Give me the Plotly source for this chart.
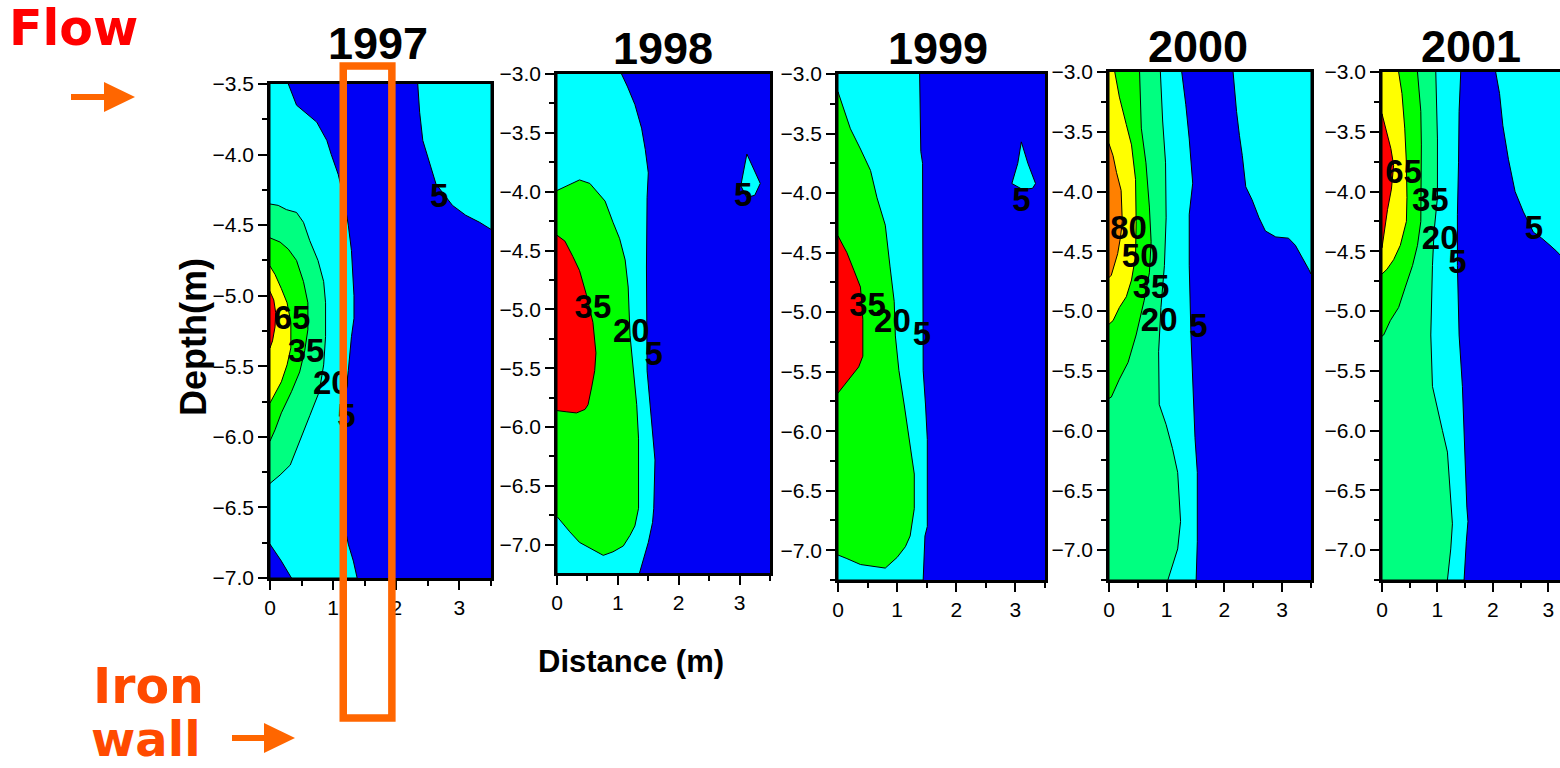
import plotly.graph_objects as go

W, H = 1560, 768

# ---------------- data ----------------
YEARS = ["1997", "1998", "1999", "2000", "2001"]

COL = {
    "blue": "#0000f5", "cyan": "#00ffff", "spring": "#00ff80",
    "green": "#00ff00", "yellow": "#ffff00", "orange": "#ff8000", "red": "#ff0000",
}

# ---- 1997 ----
p1_c5_x = [0.29, 0.42, 0.74, 0.90, 0.97, 1.08, 1.17, 1.24, 1.29, 1.33, 1.33, 1.29, 1.24, 1.18, 1.13, 1.13, 1.20, 1.24, 1.32, 1.38]
p1_c5_y = [-3.50, -3.65, -3.77, -3.90, -4.00, -4.14, -4.31, -4.50, -4.68, -5.00, -5.16, -5.29, -5.53, -5.78, -6.00, -6.52, -6.66, -6.76, -6.88, -7.00]
p1_corner_x = [0.0, 0.18, 0.34]
p1_corner_y = [-6.76, -6.88, -7.00]
p1_right_x = [2.34, 2.37, 2.42, 2.53, 2.63, 2.89, 3.10, 3.32, 3.50]
p1_right_y = [-3.50, -3.70, -3.90, -4.07, -4.21, -4.36, -4.43, -4.48, -4.53]
p1_c20_x = [0.0, 0.13, 0.26, 0.42, 0.53, 0.63, 0.76, 0.85, 0.88, 0.88, 0.85, 0.78, 0.63, 0.47, 0.32, 0.16, 0.03, 0.0]
p1_c20_y = [-4.35, -4.36, -4.39, -4.41, -4.48, -4.61, -4.75, -4.90, -5.05, -5.29, -5.49, -5.68, -5.85, -6.03, -6.20, -6.27, -6.32, -6.33]
p1_c35_x = [0.0, 0.16, 0.29, 0.42, 0.53, 0.60, 0.60, 0.55, 0.47, 0.34, 0.18, 0.08, 0.0]
p1_c35_y = [-4.59, -4.62, -4.67, -4.75, -4.90, -5.05, -5.24, -5.39, -5.54, -5.68, -5.83, -5.95, -6.03]
p1_c65_x = [0.0, 0.08, 0.18, 0.27, 0.33, 0.33, 0.27, 0.18, 0.06, 0.0]
p1_c65_y = [-4.79, -4.85, -4.95, -5.05, -5.19, -5.37, -5.49, -5.61, -5.71, -5.76]
p1_c80_x = [0.0, 0.06, 0.09, 0.08, 0.04, 0.0]
p1_c80_y = [-4.97, -5.03, -5.12, -5.22, -5.32, -5.37]
p1_lab_t = ["65", "35", "20", "5", "5"]
p1_lab_x = [0.35, 0.57, 0.97, 1.21, 2.68]
p1_lab_y = [-5.18, -5.41, -5.64, -5.87, -4.31]

# ---- 1998 ----
p2_c5_x = [1.06, 1.16, 1.28, 1.39, 1.45, 1.50, 1.48, 1.47, 1.48, 1.53, 1.57, 1.61, 1.59, 1.57, 1.50, 1.41, 1.35]
p2_c5_y = [-3.00, -3.11, -3.26, -3.46, -3.64, -3.84, -4.05, -4.64, -5.52, -5.81, -6.10, -6.28, -6.69, -6.81, -6.98, -7.13, -7.25]
p2_isl_x = [3.12, 3.22, 3.34, 3.25, 3.12, 3.02, 3.08]
p2_isl_y = [-3.68, -3.80, -3.93, -4.03, -4.05, -3.95, -3.80]
p2_c20_x = [0.0, 0.37, 0.54, 0.79, 0.92, 1.03, 1.12, 1.17, 1.20, 1.25, 1.31, 1.34, 1.34, 1.28, 1.20, 1.09, 0.92, 0.76, 0.59, 0.37, 0.21, 0.04, 0.0]
p2_c20_y = [-3.99, -3.90, -3.93, -4.08, -4.26, -4.40, -4.58, -4.81, -5.22, -5.52, -5.81, -6.10, -6.69, -6.84, -6.92, -7.01, -7.06, -7.09, -7.04, -6.98, -6.89, -6.78, -6.76]
p2_c35_x = [0.0, 0.13, 0.26, 0.37, 0.48, 0.59, 0.64, 0.62, 0.57, 0.51, 0.46, 0.32, 0.15, 0.0]
p2_c35_y = [-4.37, -4.42, -4.55, -4.67, -4.87, -5.11, -5.37, -5.52, -5.66, -5.81, -5.85, -5.88, -5.87, -5.86]
p2_lab_t = ["35", "20", "5", "5"]
p2_lab_x = [0.59, 1.22, 1.59, 3.06]
p2_lab_y = [-5.00, -5.21, -5.40, -4.05]

# ---- 1999 ----
p3_c5_x = [1.38, 1.40, 1.43, 1.43, 1.44, 1.48, 1.51, 1.51, 1.47, 1.44]
p3_c5_y = [-3.00, -3.65, -3.75, -4.91, -5.49, -5.78, -6.07, -6.80, -6.88, -7.25]
p3_isl_x = [3.10, 3.21, 3.34, 3.29, 3.12, 2.94, 3.04]
p3_isl_y = [-3.57, -3.75, -3.92, -3.96, -3.97, -3.92, -3.75]
p3_c20_x = [0.0, 0.07, 0.21, 0.38, 0.55, 0.66, 0.80, 0.88, 0.95, 0.97, 1.03, 1.12, 1.20, 1.29, 1.29, 1.22, 1.14, 1.00, 0.80, 0.55, 0.38, 0.15, 0.0]
p3_c20_y = [-3.15, -3.26, -3.46, -3.63, -3.81, -4.04, -4.27, -4.62, -4.91, -5.20, -5.49, -5.78, -6.07, -6.36, -6.65, -6.88, -6.97, -7.06, -7.15, -7.13, -7.12, -7.07, -7.04]
p3_c35_x = [0.0, 0.15, 0.27, 0.38, 0.42, 0.42, 0.35, 0.21, 0.07, 0.0]
p3_c35_y = [-4.36, -4.50, -4.65, -4.79, -5.06, -5.37, -5.46, -5.55, -5.64, -5.68]
p3_lab_t = ["35", "20", "5", "5"]
p3_lab_x = [0.50, 0.92, 1.42, 3.10]
p3_lab_y = [-4.96, -5.10, -5.21, -4.08]

# ---- 2000 ----
p4_c5_x = [1.26, 1.33, 1.39, 1.45, 1.39, 1.39, 1.42, 1.46, 1.49, 1.53, 1.53, 1.51]
p4_c5_y = [-3.00, -3.27, -3.56, -3.93, -4.19, -4.62, -5.20, -5.78, -6.06, -6.35, -6.93, -7.25]
p4_right_x = [2.15, 2.21, 2.26, 2.31, 2.37, 2.48, 2.60, 2.71, 2.89, 3.11, 3.23, 3.34, 3.46, 3.50]
p4_right_y = [-3.00, -3.33, -3.53, -3.70, -3.96, -4.07, -4.22, -4.33, -4.38, -4.39, -4.45, -4.54, -4.65, -4.69]
p4_c20_x = [0.89, 0.93, 0.98, 0.99, 0.96, 0.90, 0.86, 0.87, 0.99, 1.10, 1.19, 1.24, 1.19, 1.10, 1.02]
p4_c20_y = [-3.00, -3.41, -3.76, -4.22, -4.62, -4.97, -5.34, -5.78, -5.95, -6.15, -6.35, -6.76, -6.99, -7.13, -7.25]
p4_c35_x = [0.53, 0.56, 0.64, 0.70, 0.73, 0.70, 0.61, 0.47, 0.33, 0.18, 0.04, 0.0]
p4_c35_y = [-3.00, -3.47, -3.76, -4.13, -4.42, -4.68, -4.91, -5.20, -5.43, -5.57, -5.72, -5.73]
p4_c50_x = [0.10, 0.18, 0.30, 0.39, 0.46, 0.47, 0.46, 0.39, 0.30, 0.18, 0.07, 0.0]
p4_c50_y = [-3.00, -3.21, -3.44, -3.61, -3.90, -4.25, -4.54, -4.74, -4.88, -4.97, -5.08, -5.11]
p4_c80_x = [0.0, 0.07, 0.13, 0.21, 0.23, 0.20, 0.15, 0.09, 0.04, 0.0]
p4_c80_y = [-3.60, -3.70, -3.84, -3.99, -4.25, -4.38, -4.52, -4.63, -4.70, -4.72]
p4_lab_t = ["80", "50", "35", "20", "5"]
p4_lab_x = [0.34, 0.54, 0.73, 0.87, 1.55]
p4_lab_y = [-4.33, -4.56, -4.82, -5.10, -5.15]

# ---- 2001 ----
p5_c5_x = [1.42, 1.39, 1.38, 1.36, 1.36, 1.39, 1.45, 1.48, 1.53, 1.55, 1.52, 1.48]
p5_c5_y = [-3.00, -3.33, -3.76, -4.19, -4.62, -5.20, -5.63, -6.06, -6.64, -6.76, -6.93, -7.25]
p5_right_x = [2.05, 2.12, 2.18, 2.28, 2.40, 2.55, 2.73, 2.88, 3.03, 3.15, 3.35, 3.50]
p5_right_y = [-3.00, -3.18, -3.45, -3.73, -4.00, -4.17, -4.34, -4.39, -4.45, -4.50, -4.60, -4.70]
p5_c20_x = [0.97, 1.00, 1.00, 0.94, 0.91, 0.88, 0.91, 1.00, 1.09, 1.18, 1.23, 1.27, 1.24, 1.18]
p5_c20_y = [-3.00, -3.56, -4.05, -4.33, -4.62, -5.20, -5.63, -5.83, -6.00, -6.18, -6.50, -6.78, -6.99, -7.25]
p5_c35_x = [0.64, 0.70, 0.71, 0.70, 0.70, 0.64, 0.55, 0.42, 0.30, 0.15, 0.03, 0.0]
p5_c35_y = [-3.00, -3.33, -3.61, -3.99, -4.25, -4.45, -4.62, -4.80, -4.97, -5.08, -5.20, -5.21]
p5_c50_x = [0.30, 0.36, 0.41, 0.44, 0.45, 0.44, 0.33, 0.21, 0.09, 0.0]
p5_c50_y = [-3.00, -3.18, -3.47, -3.76, -4.05, -4.25, -4.45, -4.57, -4.65, -4.69]
p5_c65_x = [0.0, 0.08, 0.16, 0.21, 0.17, 0.10, 0.05, 0.01, 0.0]
p5_c65_y = [-3.35, -3.50, -3.64, -3.78, -3.98, -4.15, -4.30, -4.42, -4.47]
p5_lab_t = ["65", "35", "20", "5", "5"]
p5_lab_x = [0.39, 0.87, 1.05, 1.36, 2.74]
p5_lab_y = [-3.86, -4.09, -4.41, -4.61, -4.33]

# iron wall position (distance, m) in the 1997 panel
WALL_X = [1.16, 1.93]

# ---------------- layout geometry ----------------
X_MAX = [3.5, 3.5, 3.5, 3.5, 3.21]
Y_TOP = [-3.5, -3.0, -3.0, -3.0, -3.0]
Y_BOT = [-7.0, -7.24, -7.25, -7.25, -7.25]
PANEL_PX = [(270, 491, 84, 578), (557, 770, 74, 573), (838, 1045, 74, 580),
            (1109, 1311, 72, 580), (1382, 1562, 72, 580)]
TITLE_PX = [(378, 43), (663, 48), (938, 48), (1198, 46), (1471, 46)]

REGIONS = [
    [(p1_c5_x, p1_c5_y, "cyan", "left"), (p1_corner_x, p1_corner_y, "blue", "left"),
     (p1_right_x, p1_right_y, "cyan", "right"), (p1_c20_x, p1_c20_y, "spring", "left"),
     (p1_c35_x, p1_c35_y, "green", "left"), (p1_c65_x, p1_c65_y, "yellow", "left"),
     (p1_c80_x, p1_c80_y, "red", "left")],
    [(p2_c5_x, p2_c5_y, "cyan", "left"), (p2_isl_x, p2_isl_y, "cyan", "island"),
     (p2_c20_x, p2_c20_y, "green", "left"), (p2_c35_x, p2_c35_y, "red", "left")],
    [(p3_c5_x, p3_c5_y, "cyan", "left"), (p3_isl_x, p3_isl_y, "cyan", "island"),
     (p3_c20_x, p3_c20_y, "green", "left"), (p3_c35_x, p3_c35_y, "red", "left")],
    [(p4_c5_x, p4_c5_y, "cyan", "left"), (p4_right_x, p4_right_y, "cyan", "right"),
     (p4_c20_x, p4_c20_y, "spring", "left"), (p4_c35_x, p4_c35_y, "green", "left"),
     (p4_c50_x, p4_c50_y, "yellow", "left"), (p4_c80_x, p4_c80_y, "orange", "left")],
    [(p5_c5_x, p5_c5_y, "cyan", "left"), (p5_right_x, p5_right_y, "cyan", "right"),
     (p5_c20_x, p5_c20_y, "spring", "left"), (p5_c35_x, p5_c35_y, "green", "left"),
     (p5_c50_x, p5_c50_y, "yellow", "left"), (p5_c65_x, p5_c65_y, "red", "left")],
]
LABELS = [(p1_lab_t, p1_lab_x, p1_lab_y), (p2_lab_t, p2_lab_x, p2_lab_y),
          (p3_lab_t, p3_lab_x, p3_lab_y), (p4_lab_t, p4_lab_x, p4_lab_y),
          (p5_lab_t, p5_lab_x, p5_lab_y)]


def px_x(p):
    return p / W


def px_y(p):
    return 1 - p / H


def closed(xs, ys, side):
    if side == "left":
        return list(xs) + [0, 0], list(ys) + [ys[-1], ys[0]]
    if side == "right":
        return list(xs) + [3.5, 3.5], list(ys) + [ys[-1], ys[0]]
    return list(xs) + [xs[0]], list(ys) + [ys[0]]


fig = go.Figure()
layout = dict(width=W, height=H, margin=dict(l=0, r=0, t=0, b=0, pad=0),
              paper_bgcolor="white", plot_bgcolor=COL["blue"], showlegend=False,
              annotations=[], shapes=[])

AX_FONT = dict(family="Arial, Liberation Sans", size=21, color="black")

for i in range(5):
    xa = "x" if i == 0 else f"x{i+1}"
    ya = "y" if i == 0 else f"y{i+1}"
    l, r, t, b = PANEL_PX[i]
    common = dict(showline=True, linecolor="black", linewidth=2.5, mirror=True,
                  ticks="outside", ticklen=9, tickwidth=2, tickcolor="black",
                  showgrid=False, zeroline=False, tickfont=AX_FONT, automargin=False)
    layout["xaxis" if i == 0 else f"xaxis{i+1}"] = dict(
        common, domain=[px_x(l), min(1.0, px_x(r))], range=[0, X_MAX[i]], anchor=ya,
        tick0=0, dtick=1,
        minor=dict(dtick=0.5, ticks="outside", ticklen=5, tickwidth=2, tickcolor="black", showgrid=False))
    layout["yaxis" if i == 0 else f"yaxis{i+1}"] = dict(
        common, domain=[px_y(b), px_y(t)], range=[Y_BOT[i], Y_TOP[i]], anchor=xa,
        tick0=0, dtick=0.5, tickformat=".1f",
        minor=dict(dtick=0.25, ticks="outside", ticklen=5, tickwidth=2, tickcolor="black", showgrid=False))

    for xs, ys, ck, side in REGIONS[i]:
        cx, cy = closed(xs, ys, side)
        fig.add_trace(go.Scatter(x=cx, y=cy, mode="lines", fill="toself",
                                 fillcolor=COL[ck], line=dict(color="black", width=1),
                                 hoverinfo="skip", xaxis=xa, yaxis=ya))
    tt, tx, ty = LABELS[i]
    fig.add_trace(go.Scatter(x=tx, y=ty, mode="text", text=[f"<b>{s}</b>" for s in tt],
                             textfont=dict(family="Arial, Liberation Sans", size=33, color="black"),
                             cliponaxis=False, hoverinfo="skip", xaxis=xa, yaxis=ya))

    cxp, cyp = TITLE_PX[i]
    layout["annotations"].append(dict(
        text=f"<b>{YEARS[i]}</b>", x=px_x(cxp), y=px_y(cyp), xref="paper", yref="paper",
        xanchor="center", yanchor="middle", showarrow=False,
        font=dict(family="Arial, Liberation Sans", size=45, color="black")))

# axis titles
layout["annotations"].append(dict(
    text="<b>Distance (m)</b>", x=px_x(631), y=px_y(661), xref="paper", yref="paper",
    xanchor="center", yanchor="middle", showarrow=False,
    font=dict(family="Arial, Liberation Sans", size=31, color="black")))
layout["annotations"].append(dict(
    text="<b>Depth(m)</b>", x=px_x(194), y=px_y(337), xref="paper", yref="paper",
    xanchor="center", yanchor="middle", showarrow=False, textangle=-90,
    font=dict(family="Arial, Liberation Sans", size=36, color="black")))

# Flow / Iron wall texts
layout["annotations"].append(dict(
    text="<b>Flow</b>", x=px_x(73), y=px_y(28), xref="paper", yref="paper",
    xanchor="center", yanchor="middle", showarrow=False,
    font=dict(family="DejaVu Sans", size=49, color="#ff0000")))
layout["annotations"].append(dict(
    text="<b>Iron</b>", x=px_x(148), y=px_y(686), xref="paper", yref="paper",
    xanchor="center", yanchor="middle", showarrow=False,
    font=dict(family="DejaVu Sans", size=49, color="#ff4a00")))
layout["annotations"].append(dict(
    text="<b>wall</b>", x=px_x(146), y=px_y(739), xref="paper", yref="paper",
    xanchor="center", yanchor="middle", showarrow=False,
    font=dict(family="DejaVu Sans", size=48, color="#ff4a00")))

ORANGE = "#ff6600"
# iron wall rectangle in panel-1 distance units
d0, d1 = px_x(PANEL_PX[0][0]), px_x(PANEL_PX[0][1])
wx0 = d0 + WALL_X[0] / X_MAX[0] * (d1 - d0)
wx1 = d0 + WALL_X[1] / X_MAX[0] * (d1 - d0)
layout["shapes"].append(dict(type="rect", xref="paper", yref="paper",
                             x0=wx0, x1=wx1, y0=px_y(718), y1=px_y(66),
                             line=dict(color=ORANGE, width=7.5), fillcolor="rgba(0,0,0,0)",
                             layer="above"))


def arrow(x0, x1, yc):
    head = 31
    half = 15
    shaft = dict(type="line", xref="paper", yref="paper",
                 x0=px_x(x0), x1=px_x(x1 - head + 2), y0=px_y(yc), y1=px_y(yc),
                 line=dict(color=ORANGE, width=6), layer="above")
    tri = dict(type="path", xref="paper", yref="paper",
               path=f"M {px_x(x1-head)} {px_y(yc-half)} L {px_x(x1)} {px_y(yc)} L {px_x(x1-head)} {px_y(yc+half)} Z",
               fillcolor=ORANGE, line=dict(color=ORANGE, width=0), layer="above")
    return [shaft, tri]


layout["shapes"] += arrow(71, 135, 97)
layout["shapes"] += arrow(232, 295, 738)

fig.update_layout(**layout)
fig.write_html(
    "out.html",
    post_script="document.body.style.margin='0';document.body.style.padding='0';"
                "document.body.style.overflow='hidden';",
)
